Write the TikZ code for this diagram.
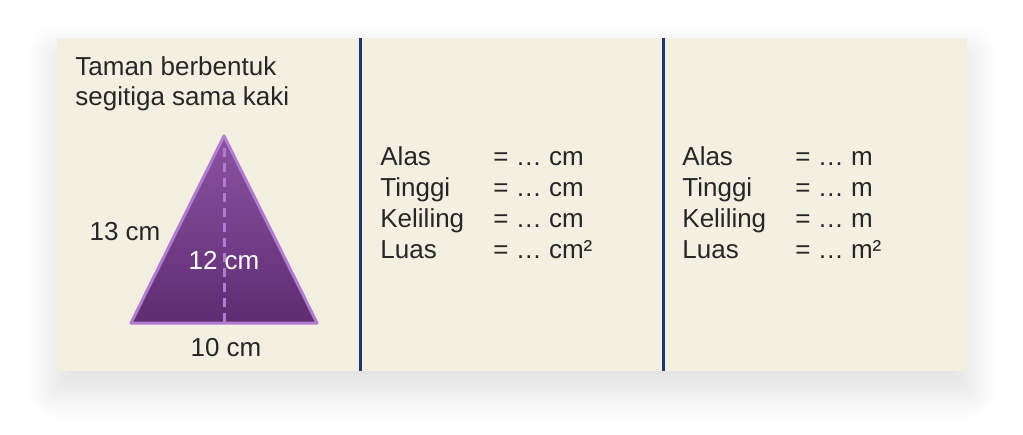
\documentclass[tikz,border=0pt]{standalone}
\usepackage{fontspec}
\setmainfont{Liberation Sans}
\usetikzlibrary{shadows.blur}
\definecolor{panelbg}{HTML}{F4F0E1}
\definecolor{divider}{HTML}{1F3A68}
\definecolor{tritop}{HTML}{8C52A2}
\definecolor{tribot}{HTML}{5E2C71}
\definecolor{triedge}{HTML}{B27BD0}
\definecolor{inktext}{HTML}{262626}
\tikzset{
  txt/.style={font=\fontsize{13}{15}\selectfont, text=inktext, inner sep=0pt},
  rowlabel/.style={txt, anchor=base west},
}
\begin{document}
\begin{tikzpicture}[x=0.5pt, y=-0.5pt]
			%%%%% START %%%%%
			\useasboundingbox (0, 0) rectangle (1023, 434);
			
			% panel with soft shadow
			\fill[panelbg, blur shadow={shadow xshift=0pt, shadow yshift=-9pt, shadow blur radius=16pt, shadow blur steps=20, shadow opacity=14}] (57, 38) rectangle (967, 371);
			
			% dividers
			\draw[line width=1.5pt, color=divider] (360, 38) -- (360, 371);
			\draw[line width=1.5pt, color=divider] (663, 38) -- (663, 371);
			
			% title
			\node[rowlabel] (title1) at (75, 75) {Taman berbentuk};
			\node[rowlabel] (title2) at (75, 105) {segitiga sama kaki};
			
			% triangle
			\coordinate (apex) at (224, 136);
			\coordinate (bl) at (131, 323);
			\coordinate (br) at (317, 323);
			\coordinate (foot) at (224, 323);
			\shade[top color=tritop, bottom color=tribot] (apex) -- (br) -- (bl) -- cycle;
			\draw[line width=1.5pt, color=triedge, line join=round] (apex) -- (br) -- (bl) -- cycle;
			\draw[line width=1.5pt, color=triedge, dash pattern=on 4.5pt off 3pt] (224, 148) -- (foot);
			
			\node[txt] (side) at (125, 232) {13 cm};
			\node[txt, text=white] (height) at (224, 261) {12 cm};
			\node[txt] (base) at (226, 348) {10 cm};
			
			% middle column (cm)
			\node[rowlabel] (alascm) at (380, 165) {Alas};
			\node[rowlabel] (tinggicm) at (380, 196) {Tinggi};
			\node[rowlabel] (kelilingcm) at (380, 227) {Keliling};
			\node[rowlabel] (luascm) at (380, 258) {Luas};
			\node[rowlabel] (alascmv) at (493, 165) {= … cm};
			\node[rowlabel] (tinggicmv) at (493, 196) {= … cm};
			\node[rowlabel] (kelilingcmv) at (493, 227) {= … cm};
			\node[rowlabel] (luascmv) at (493, 258) {= … cm²};
			
			% right column (m)
			\node[rowlabel] (alasm) at (682, 165) {Alas};
			\node[rowlabel] (tinggim) at (682, 196) {Tinggi};
			\node[rowlabel] (kelilingm) at (682, 227) {Keliling};
			\node[rowlabel] (luasm) at (682, 258) {Luas};
			\node[rowlabel] (alasmv) at (795, 165) {= … m};
			\node[rowlabel] (tinggimv) at (795, 196) {= … m};
			\node[rowlabel] (kelilingmv) at (795, 227) {= … m};
			\node[rowlabel] (luasmv) at (795, 258) {= … m²};
			
			%%%%% END %%%%%
\end{tikzpicture}
\end{document}
